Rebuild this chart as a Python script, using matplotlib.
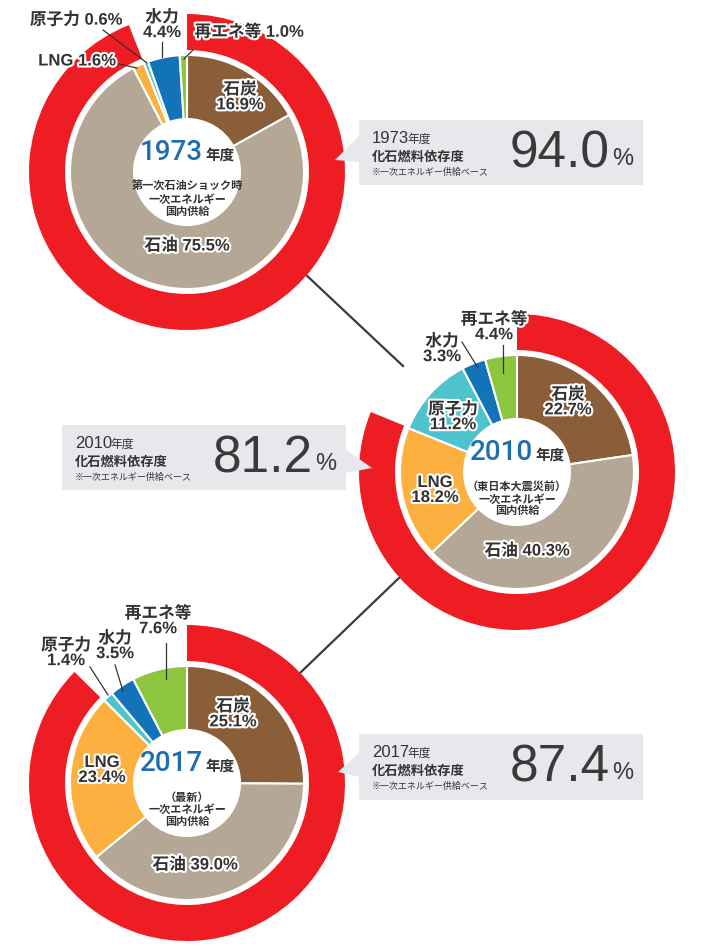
import matplotlib
matplotlib.use("Agg")
import matplotlib.pyplot as plt
import matplotlib.patheffects as pe
from matplotlib.patches import Polygon, Rectangle

# Latin digits from Liberation Sans, Japanese glyphs fall back to Noto Sans CJK
plt.rcParams['font.family'] = ['Liberation Sans', 'Noto Sans CJK JP']

# --- data ---
sources = ['石炭', '石油', 'LNG', '原子力', '水力', '再エネ等']
years = ['1973', '2010', '2017']
notes = ['第一次石油ショック時', '（東日本大震災前）', '（最新）']
share_1973 = [16.9, 75.5, 1.6, 0.6, 4.4, 1.0]
share_2010 = [22.7, 40.3, 18.2, 11.2, 3.3, 4.4]
share_2017 = [25.1, 39.0, 23.4, 1.4, 3.5, 7.6]
fossil_dependency = [94.0, 81.2, 87.4]

colors = ['#8B5E3A', '#B4A796', '#FBB040', '#4EC3CE', '#1273B9', '#8CC63F']
RED = '#EE1D23'
BOX = '#E6E8EC'
TXT = '#333333'
BLUE = '#1E6DB0'

W, H = 705, 948
R_PIE, R_HOLE = 117, 53
R_RING_IN, R_RING_OUT = 122, 158

# layout: chart centres (pixels, y down)
centers = [(187, 172), (517, 472), (187, 783)]

# label layout per chart: (dx, dy, separator, leader or None)
label_layout = [
    [(53, -75, '\n', None), (0, 74, ' ', None),
     (-110, -111, ' ', ((-68, -108), (-50, -104))),
     (-111, -152, ' ', ((-84, -142), (-40, -109))),
     (-25, -147, '\n', ((-25, -130), (-25, -115))),
     (62, -140, ' ', ((6, -122), (-3, -113)))],
    [(51, -70, '\n', None), (10, 79, ' ', None),
     (-82, 18, '\n', None), (-64, -55, '\n', None),
     (-75, -123, '\n', ((-55, -130), (-39, -104))),
     (-23, -145, '\n', ((-14, -127), (-14, -99)))],
    [(46, -69, '\n', None), (8, 82, ' ', None),
     (-85, -13, '\n', None),
     (-121, -130, '\n', ((-97, -116), (-79, -88))),
     (-72, -137, '\n', ((-72, -118), (-64, -92))),
     (-29, -162, '\n', ((-21, -140), (-21, -104)))],
]

# callout boxes: rect (x0, y0, x1, y1), pointer triangle, text anchor
callouts = [
    ((359, 120, 643, 185), [(360, 135), (335, 160), (360, 162)], (372, 120)),
    ((62, 425, 346, 490), [(345, 449), (372, 468), (345, 473)], (75, 425)),
    ((359, 734, 643, 800), [(360, 752), (338, 772), (360, 777)], (372, 734)),
]

connectors = [((304, 273), (403, 366)), ((400, 577), (300, 673))]

fig = plt.figure(figsize=(W / 100, H / 100), dpi=100)
ax = fig.add_axes([0, 0, 1, 1])

stroke = [pe.withStroke(linewidth=3, foreground='white')]

for (p0, p1) in connectors:
    ax.plot([p0[0], p1[0]], [p0[1], p1[1]], color='#3a3a3a', lw=1.6, zorder=0)

shares = [share_1973, share_2010, share_2017]
for i, (cx, cy) in enumerate(centers):
    # y axis is inverted, so counterclock=True with startangle=-90 runs clockwise from 12 o'clock
    ax.pie([fossil_dependency[i], 100 - fossil_dependency[i]], colors=[RED, 'none'],
           center=(cx, cy), radius=R_RING_OUT, startangle=-90, counterclock=True,
           wedgeprops=dict(width=R_RING_OUT - R_RING_IN, linewidth=0))
    ax.pie(shares[i], colors=colors, center=(cx, cy), radius=R_PIE,
           startangle=-90, counterclock=True,
           wedgeprops=dict(width=R_PIE - R_HOLE, edgecolor='white', linewidth=1.5))

    for j, (dx, dy, sep, leader) in enumerate(label_layout[i]):
        ax.text(cx + dx, cy + dy, f'{sources[j]}{sep}{shares[i][j]:.1f}%',
                ha='center', va='center', fontsize=12, fontweight='bold',
                color=TXT, linespacing=1.0, path_effects=stroke, zorder=5)
        if leader:
            (x0, y0), (x1, y1) = leader
            ax.plot([cx + x0, cx + x1], [cy + y0, cy + y1], color='#333333',
                    lw=0.9, zorder=4)

    # centre text
    ax.text(cx + 16, cy - 12, years[i], ha='right', va='baseline', fontsize=20,
            color=BLUE, family=['Roboto', 'Liberation Sans'], fontweight='medium',
            zorder=5)
    ax.text(cx + 18, cy - 12, '年度', ha='left', va='baseline', fontsize=10.5,
            color=TXT, fontweight='bold', zorder=5)
    ax.text(cx, cy + 9, f'{notes[i]}\n一次エネルギー\n国内供給', ha='center',
            va='top', fontsize=8, color=TXT, fontweight='bold',
            linespacing=1.2, zorder=5)

    # callout box
    (bx0, by0, bx1, by1), tri, (tx, ty) = callouts[i]
    ax.add_patch(Rectangle((bx0, by0), bx1 - bx0, by1 - by0, facecolor=BOX,
                           edgecolor='none', zorder=1))
    ax.add_patch(Polygon(tri, closed=True, facecolor=BOX, edgecolor='none',
                         zorder=1))
    ax.text(tx, ty + 23, years[i], ha='left', va='baseline', fontsize=12,
            color=TXT)
    ax.text(tx + 35, ty + 23, '年度', ha='left', va='baseline', fontsize=8.5,
            color=TXT)
    ax.text(tx, ty + 41, '化石燃料依存度', ha='left', va='baseline',
            fontsize=9.5, color=TXT, fontweight='bold')
    ax.text(tx, ty + 55, '※一次エネルギー供給ベース', ha='left',
            va='baseline', fontsize=6.5, color=TXT)
    ax.text(bx0 + 251, ty + 47, f'{fossil_dependency[i]:.1f}', ha='right',
            va='baseline', fontsize=37, color='#3a3a3a')
    ax.text(bx0 + 253, ty + 45, '%', ha='left', va='baseline', fontsize=17,
            color='#3a3a3a')

ax.set_xlim(0, W)
ax.set_ylim(H, 0)
ax.set_aspect('equal')
ax.axis('off')

fig.savefig('out.png', dpi=100, facecolor='white')
